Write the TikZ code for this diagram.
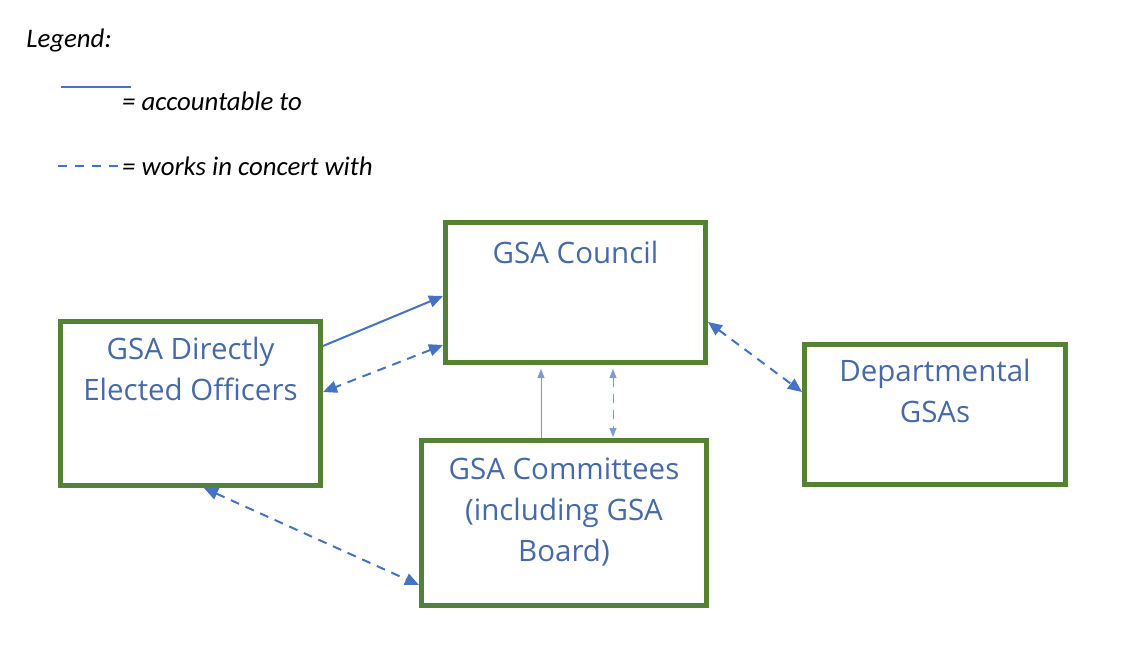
\documentclass[tikz,border=0pt]{standalone}
\usepackage{fontspec}
\setmainfont{Open Sans}
\newfontfamily\legendfont{Carlito}
\usetikzlibrary{arrows.meta}
\definecolor{boxgreen}{RGB}{84,130,53}
\definecolor{linkblue}{RGB}{68,114,196}
\definecolor{labelblue}{RGB}{70,105,168}
\begin{document}
\begin{tikzpicture}[x=1pt,y=-1pt,
	orgbox/.style={draw=boxgreen,line width=5pt,inner sep=0pt},
	boxtext/.style={text=labelblue,font=\fontsize{29.5}{41}\selectfont,align=center,inner sep=0pt},
	legendtext/.style={font=\legendfont\itshape\fontsize{26.8}{30}\selectfont,inner sep=0pt},
	acct/.style={draw=linkblue,line width=2pt},
	concert/.style={draw=linkblue,line width=2pt,dash pattern=on 9pt off 7pt},
	bothtips/.style={{Triangle[length=14pt,width=12pt]}-{Triangle[length=14pt,width=12pt]}},
	endtip/.style={-{Triangle[length=14pt,width=12pt]}},
	smalltips/.style={line width=1pt,draw=linkblue!70}]
	\useasboundingbox (0,0) rectangle (1130,646);
	% legend
	\node[legendtext] (legendtitle) at (69,40) {Legend:};
	\coordinate (acctA) at (61,87);
	\coordinate (acctB) at (131,87);
	\draw[acct] (acctA) -- (acctB);
	\node[legendtext,anchor=west] (accttext) at (122,101) {= accountable to};
	\coordinate (concertA) at (58,166);
	\coordinate (concertB) at (126,166);
	\draw[concert,line width=1.5pt,dash pattern=on 9pt off 8pt] (concertA) -- (concertB);
	\node[legendtext,anchor=west] (concerttext) at (122,166) {= works in concert with};
	% boxes
	\node[orgbox,minimum width=260pt,minimum height=140pt] (council) at (575.5,292.5) {};
	\node[orgbox,minimum width=260pt,minimum height=164pt] (officers) at (190.5,403.5) {};
	\node[orgbox,minimum width=261pt,minimum height=140pt] (depts) at (935,414.5) {};
	\node[orgbox,minimum width=285pt,minimum height=165pt] (committees) at (564,523) {};
	\node[boxtext] (councillbl) at ([yshift=-32pt]council.north) {GSA Council};
	\node[boxtext] (officerslbl) at ([yshift=-50pt]officers.north) {GSA Directly\\Elected Officers};
	\node[boxtext] (deptslbl) at ([yshift=-49pt]depts.north) {Departmental\\GSAs};
	\node[boxtext] (committeeslbl) at ([yshift=-74pt]committees.north) {GSA Committees\\(including GSA\\Board)};
	% connectors
	\draw[acct,endtip] ([yshift=57.5pt]officers.east) -- ([yshift=-3.5pt]council.west);
	\draw[concert,bothtips] ([yshift=-52.5pt]council.west) -- ([yshift=11.5pt]officers.east);
	\draw[concert,bothtips] ([yshift=-29.5pt]council.east) -- ([yshift=22.5pt]depts.west);
	\draw[concert,bothtips] ([xshift=13.5pt]officers.south) -- ([yshift=-62pt]committees.west);
	\coordinate (upA) at ([xshift=-23pt]committees.north);
	\coordinate (upB) at ([xshift=49pt]committees.north);
	\draw[smalltips,-{Triangle[length=9pt,width=7pt]},shorten >=4pt] (upA) -- (upA |- council.south);
	\draw[smalltips,dash pattern=on 9pt off 7pt,{Triangle[length=9pt,width=7pt]}-{Triangle[length=9pt,width=7pt]},shorten <=4pt,shorten >=1pt] (upB |- council.south) -- (upB);
\end{tikzpicture}
\end{document}
